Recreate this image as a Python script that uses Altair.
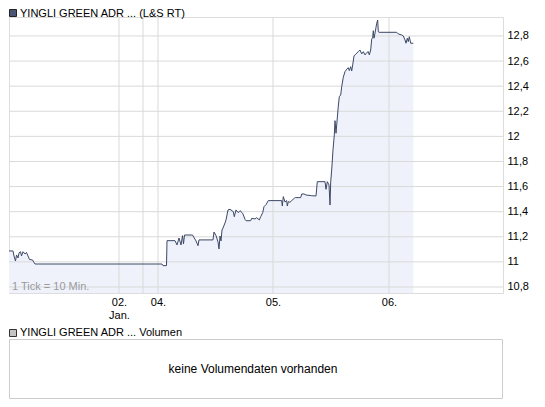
import altair as alt
import pandas as pd

# position along the intraday axis (1 unit = 1 tick slot) and price in EUR
t_vals = [6, 10, 11, 12.5, 13.5, 15, 16, 17.5, 18.5, 20, 22, 23.5, 25, 26.5, 29.5, 31, 32,
          159, 160, 163.5, 164, 172, 174, 176, 178, 179.5, 180.5, 181.5, 189.5, 193, 195, 196,
          210, 211, 213, 215, 216, 217, 218, 219, 220, 222, 223, 225, 227, 230.3, 231.3, 233,
          235.3, 237, 239.7, 242, 243, 247.7, 248.7, 252, 253.7, 256.3, 257.7, 259.7, 261, 263,
          265.3, 278.7, 279.3, 280.3, 282, 283.7, 284.3, 285.3, 287, 288.7, 291.3, 292.3, 297.7,
          298.7, 301, 303, 308.7, 313, 314.3, 322, 323, 324.3, 326, 327, 327.7, 328.7, 330, 331.3,
          332, 333, 333.7, 335.3, 336.3, 337.7, 338.7, 340.3, 342, 343.7, 345.3, 346.3, 347.7,
          348.7, 349.7, 351, 353, 355.3, 357, 358.7, 360.3, 362, 363.7, 365.3, 366.3, 367.7,
          368.7, 369.7, 370.3, 371, 372, 373.7, 374.7, 375.3, 376, 393.7, 395.3, 398.7, 400.3,
          402, 403, 404.3, 405.3, 406.3, 407.7, 410.3]
price = [11.087, 11.087, 11.047, 11.007, 11.055, 11.031, 11.071, 11.081, 11.047, 11.081, 11.063,
         11.075, 11.047, 11.019, 11.015, 10.995, 10.983,
         10.983, 10.970, 10.970, 11.169, 11.169, 11.135, 11.190, 11.135, 11.209, 11.143, 11.214,
         11.214, 11.167, 11.129, 11.175,
         11.175, 11.238, 11.210, 11.159, 11.103, 11.206, 11.167, 11.254, 11.270, 11.310, 11.334,
         11.414, 11.419, 11.400, 11.360, 11.414,
         11.392, 11.408, 11.387, 11.339, 11.328, 11.328, 11.347, 11.342, 11.352, 11.334, 11.360,
         11.392, 11.440, 11.456,
         11.488, 11.488, 11.445, 11.520, 11.477, 11.488, 11.445, 11.480, 11.475, 11.488, 11.507,
         11.512, 11.512,
         11.541, 11.541, 11.533, 11.527, 11.525, 11.639, 11.639, 11.578, 11.639, 11.613, 11.453,
         11.637, 11.732, 11.892, 12.011,
         12.125, 12.025, 12.091, 12.242, 12.316, 12.330, 12.396, 12.471, 12.516, 12.535, 12.547,
         12.524, 12.555,
         12.521, 12.569, 12.641, 12.657, 12.675, 12.688, 12.657, 12.675, 12.649, 12.667, 12.675,
         12.649, 12.688,
         12.774, 12.790, 12.842, 12.782, 12.822, 12.901, 12.927, 12.834, 12.829, 12.829, 12.816,
         12.808, 12.800,
         12.768, 12.742, 12.782, 12.755, 12.794, 12.742, 12.742]

x_ticks = [116, 140, 155, 270, 386]
x_tick_labels = [["02.", "Jan."], "", "04.", "05.", "06."]
y_ticks = [10.8, 11.0, 11.2, 11.4, 11.6, 11.8, 12.0, 12.2, 12.4, 12.6, 12.8]

title_main = "YINGLI GREEN ADR ... (L&S RT)"
title_vol = "YINGLI GREEN ADR ... Volumen"
no_vol = "keine Volumendaten vorhanden"
tick_note = "1 Tick = 10 Min."

X_MIN, X_MAX = 6, 500
Y_MIN, Y_MAX = 10.752, 12.951
W, H = 494, 276
FONT = "Liberation Sans"
LINE = "#3c4866"
FILL = "#eff2fa"
GRID = "#d9d9d9"

df = pd.DataFrame({"t": t_vals, "price": price})
xs = alt.Scale(domain=[X_MIN, X_MAX], nice=False, zero=False)
ys = alt.Scale(domain=[Y_MIN, Y_MAX], nice=False, zero=False)


def lab(v):
    if isinstance(v, list):
        return "[" + ", ".join("'%s'" % s for s in v) + "]"
    return "'%s'" % v


expr = "''"
for pos, l in reversed(list(zip(x_ticks, x_tick_labels))):
    expr = "datum.value == %s ? %s : %s" % (pos, lab(l), expr)

x_axis = alt.Axis(values=x_ticks, labelExpr=expr, grid=False, ticks=False, domain=False,
                  title=None, labelOverlap=False, labelFlush=False, labelPadding=3,
                  labelBaseline="top", labelLineHeight=13, labelFont=FONT, labelFontSize=11,
                  labelColor="#000000")
y_axis = alt.Axis(values=y_ticks, orient="right", grid=False, ticks=False, domain=False,
                  title=None, labelPadding=4, labelFont=FONT, labelFontSize=11,
                  labelColor="#000000", labelOverlap=False, labelFlush=False,
                  labelExpr="replace(format(datum.value, '.1~f'), '.', ',')")

X = lambda f: alt.X(f + ":Q", scale=xs, axis=x_axis)
Y = lambda f: alt.Y(f + ":Q", scale=ys, axis=y_axis)

area = alt.Chart(df).mark_area(color=FILL, clip=True).encode(
    x=X("t"), y=Y("price"), y2=alt.datum(Y_MIN),
)
vgrid = alt.Chart(pd.DataFrame({"t": x_ticks})).mark_rule(color=GRID, strokeWidth=1).encode(
    x=X("t"))
hgrid = alt.Chart(pd.DataFrame({"price": y_ticks})).mark_rule(color=GRID, strokeWidth=1).encode(
    y=Y("price"))
line = alt.Chart(df).mark_line(color=LINE, strokeWidth=1, clip=True).encode(
    x=X("t"), y=Y("price"),
)


def text_layer(txt, x, y, size=11, color="#000000", align="left"):
    return alt.Chart(pd.DataFrame({"txt": [txt]})).mark_text(
        font=FONT, fontSize=size, color=color, align=align, baseline="middle"
    ).encode(text="txt:N", x=alt.value(x), y=alt.value(y))


def box(x, x2, y, y2, fill, stroke):
    return alt.Chart(pd.DataFrame({"k": [0]})).mark_rect(
        fill=fill, stroke=stroke, strokeWidth=1
    ).encode(x=alt.value(x), x2=alt.value(x2), y=alt.value(y), y2=alt.value(y2))


note = text_layer(tick_note, 3, 270, color="#9a9a9a")
sq1 = box(0.5, 7.5, -7.5, -0.5, "#4b5675", "#222222")
t1 = text_layer(title_main, 11, -3)
sq2 = box(0.5, 7.5, 312.5, 319.5, "#c4c4c4", "#333333")
t2 = text_layer(title_vol, 11, 316)
vbox = box(0.5, W - 0.5, 322.5, 381.5, "#ffffff", "#cccccc")
t3 = text_layer(no_vol, 244, 352, size=12, align="center")

chart = alt.layer(area, vgrid, hgrid, line, note, sq1, t1, sq2, t2, vbox, t3).properties(
    width=W, height=H,
    autosize=alt.AutoSizeParams(type="none"),
    padding={"left": 1, "top": 9, "right": 30, "bottom": 106},
).configure_view(stroke="#c8c8c8", strokeWidth=1).configure(background="#ffffff")

chart.save("out.html", embed_options={"renderer": "svg", "actions": False})
